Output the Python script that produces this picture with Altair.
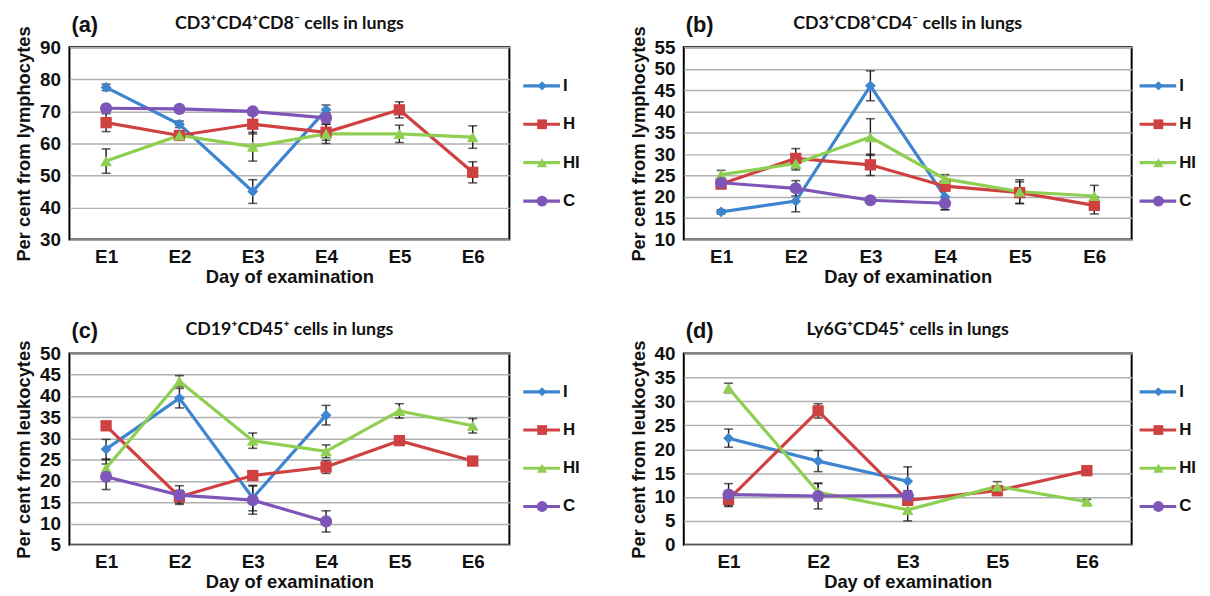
import altair as alt
import pandas as pd

# ---------------- data ----------------
series = ["I", "H", "HI", "C"]
colors = ["#3d85cf", "#cf4040", "#8ecf52", "#7d56b8"]
shapes = ["diamond", "square", "triangle-up", "circle"]
sizes = [120, 150, 150, 150]
leg_sizes = [85, 120, 115, 120]

days_abc = ["E1", "E2", "E3", "E4", "E5", "E6"]
days_d = ["E1", "E2", "E3", "E5", "E6"]

# (a) CD3+CD4+CD8- cells in lungs
a_I = [77.5, 66.0, 45.0, 70.5]
a_I_err = [1.0, 1.0, 3.7, 1.5]
a_H = [66.5, 62.5, 66.0, 63.5, 70.5, 51.0]
a_H_err = [2.8, 1.0, 3.0, 2.5, 2.5, 3.3]
a_HI = [54.5, 62.5, 59.0, 63.0, 63.0, 62.0]
a_HI_err = [3.8, 1.0, 4.5, 3.0, 2.7, 3.5]
a_C = [71.0, 70.8, 70.0, 68.0]
a_C_err = [1.0, 0.8, 1.0, 1.5]

# (b) CD3+CD8+CD4- cells in lungs
b_I = [16.5, 19.0, 46.0, 20.0]
b_I_err = [0.5, 2.5, 3.5, 3.0]
b_H = [23.0, 29.0, 27.5, 22.5, 21.0, 18.0]
b_H_err = [1.0, 2.3, 2.5, 1.0, 2.5, 2.0]
b_HI = [25.2, 27.8, 34.0, 24.2, 21.2, 20.2]
b_HI_err = [1.0, 1.5, 4.3, 1.0, 2.8, 2.5]
b_C = [23.3, 22.0, 19.2, 18.5]
b_C_err = [1.0, 1.8, 0.8, 1.5]

# (c) CD19+CD45+ cells in lungs
c_I = [27.5, 39.5, 16.0, 35.5]
c_I_err = [2.3, 2.3, 3.0, 2.3]
c_H = [33.0, 16.3, 21.3, 23.3, 29.5, 24.7]
c_H_err = [0.5, 1.5, 0.8, 1.5, 0.6, 0.5]
c_HI = [23.0, 43.5, 29.5, 27.0, 36.5, 33.0]
c_HI_err = [2.0, 1.3, 1.8, 1.5, 1.7, 1.7]
c_C = [21.0, 16.7, 15.5, 10.5]
c_C_err = [3.0, 2.2, 3.3, 2.5]

# (d) Ly6G+CD45+ cells in lungs
d_I = [22.3, 17.5, 13.3]
d_I_err = [1.9, 2.2, 3.0]
d_H = [9.5, 28.0, 9.3, 11.3, 15.5]
d_H_err = [1.5, 1.5, 1.0, 0.5, 0.5]
d_HI = [32.8, 11.0, 7.3, 12.2, 9.0]
d_HI_err = [1.0, 1.8, 2.3, 1.0, 0.5]
d_C = [10.5, 10.2, 10.3]
d_C_err = [2.3, 2.7, 1.0]

FONT = "Liberation Sans"
TITLE_FONT = "Lato"


def panel(tag, title, ytitle, days, data, ydomain, ystep, width, height, leg_dx):
    rows = []
    for s in series:
        vals, errs = data[s]
        for d, v, e in zip(days, vals, errs):
            rows.append(dict(day=d, series=s, value=v, lo=v - e, hi=v + e))
    df = pd.DataFrame(rows)

    ticks = list(range(ydomain[0], ydomain[1] + 1, ystep))
    x = alt.X("day:N", scale=alt.Scale(domain=days, type="point", padding=0.5),
              axis=alt.Axis(title="Day of examination"))
    yscale = alt.Scale(domain=ydomain, nice=False, zero=False)
    yaxis = alt.Axis(title=ytitle, values=ticks)
    color = alt.Color("series:N", scale=alt.Scale(domain=series, range=colors), legend=None)
    shape = alt.Shape("series:N", scale=alt.Scale(domain=series, range=shapes), legend=None)
    size = alt.Size("series:N", scale=alt.Scale(domain=series, range=sizes), legend=None)

    base = alt.Chart(df)
    err = base.mark_rule(color="#1a1a1a", strokeWidth=1.4).encode(
        x=x, y=alt.Y("lo:Q", scale=yscale, axis=yaxis), y2="hi:Q")
    cap_lo = base.mark_tick(color="#1a1a1a", size=9, thickness=1.6, orient="horizontal").encode(
        x=x, y=alt.Y("lo:Q", scale=yscale, axis=yaxis))
    cap_hi = base.mark_tick(color="#1a1a1a", size=9, thickness=1.6, orient="horizontal").encode(
        x=x, y=alt.Y("hi:Q", scale=yscale, axis=yaxis))
    line = base.mark_line(strokeWidth=3.2).encode(
        x=x, y=alt.Y("value:Q", scale=yscale, axis=yaxis), color=color)
    pts = base.mark_point(filled=True, opacity=1).encode(
        x=x, y=alt.Y("value:Q", scale=yscale, axis=yaxis), color=color, shape=shape, size=size)
    data_layer = alt.layer(err, cap_lo, cap_hi, line, pts)

    legdf = pd.DataFrame({"series": series})
    ly = alt.Y("series:N", scale=alt.Scale(domain=series, type="point", padding=1.55), axis=None)
    lsize = alt.Size("series:N", scale=alt.Scale(domain=series, range=leg_sizes), legend=None)
    lbase = alt.Chart(legdf)
    leg_line = lbase.mark_rule(strokeWidth=3.2).encode(
        x=alt.value(width + leg_dx), x2=alt.value(width + leg_dx + 37), y=ly, color=color)
    leg_pt = lbase.mark_point(filled=True, opacity=1).encode(
        x=alt.value(width + leg_dx + 19), y=ly, color=color, shape=shape, size=lsize)
    leg_txt = lbase.mark_text(align="left", baseline="middle", font=FONT, fontSize=17,
                              fontWeight="bold", color="#111").encode(
        x=alt.value(width + leg_dx + 40), y=ly, text="series:N")
    tagdf = pd.DataFrame({"t": [tag], "title": [title]})
    tag_txt = alt.Chart(tagdf).mark_text(align="left", baseline="middle", font=FONT,
                                         fontSize=22, fontWeight="bold", color="#111").encode(
        x=alt.value(2), y=alt.value(-23), text="t:N")
    title_txt = alt.Chart(tagdf).mark_text(align="center", baseline="middle", font=TITLE_FONT,
                                           fontSize=18, fontWeight="bold", color="#111").encode(
        x=alt.value(width / 2), y=alt.value(-24), text="title:N")
    leg_layer = alt.layer(leg_line, leg_pt, leg_txt, tag_txt, title_txt)

    return alt.layer(data_layer, leg_layer).resolve_scale(
        y="independent", x="independent", size="independent"
    ).properties(width=width, height=height)


pa = panel("(a)", "CD3⁺CD4⁺CD8⁻ cells in lungs", "Per cent from lymphocytes", days_abc,
           {"I": (a_I, a_I_err), "H": (a_H, a_H_err), "HI": (a_HI, a_HI_err), "C": (a_C, a_C_err)},
           [30, 90], 10, 444, 194, 14)
pb = panel("(b)", "CD3⁺CD8⁺CD4⁻ cells in lungs", "Per cent from lymphocytes", days_abc,
           {"I": (b_I, b_I_err), "H": (b_H, b_H_err), "HI": (b_HI, b_HI_err), "C": (b_C, b_C_err)},
           [10, 55], 5, 452, 194, 8)
pc = panel("(c)", "CD19⁺CD45⁺ cells in lungs", "Per cent from leukocytes", days_abc,
           {"I": (c_I, c_I_err), "H": (c_H, c_H_err), "HI": (c_HI, c_HI_err), "C": (c_C, c_C_err)},
           [5, 50], 5, 444, 193, 14)
pd_ = panel("(d)", "Ly6G⁺CD45⁺ cells in lungs", "Per cent from leukocytes", days_d,
            {"I": (d_I, d_I_err), "H": (d_H, d_H_err), "HI": (d_HI, d_HI_err), "C": (d_C, d_C_err)},
            [0, 40], 5, 452, 193, 8)

row1 = alt.hconcat(pa, pb, spacing=47)
row2 = alt.hconcat(pc, pd_, spacing=47)
chart = alt.vconcat(row1, row2, spacing=32).configure_view(
    stroke="black", strokeWidth=2
).configure_axis(
    labelFont=FONT, labelFontSize=19, labelFontWeight="bold", labelColor="#111",
    titleFont=FONT, titleFontSize=18.5, titleFontWeight="bold", titleColor="#111",
    ticks=False, domain=False
).configure_axisY(
    grid=True, gridColor="#b0b0b0", gridWidth=1.5, labelPadding=9, titlePadding=6
).configure_axisX(
    grid=False, labelPadding=8, titlePadding=1, labelAngle=0
).properties(background="white", padding={"left": 5, "right": 5, "top": 2, "bottom": 5})

chart.save("out.html", embed_options={"renderer": "svg", "actions": False})
